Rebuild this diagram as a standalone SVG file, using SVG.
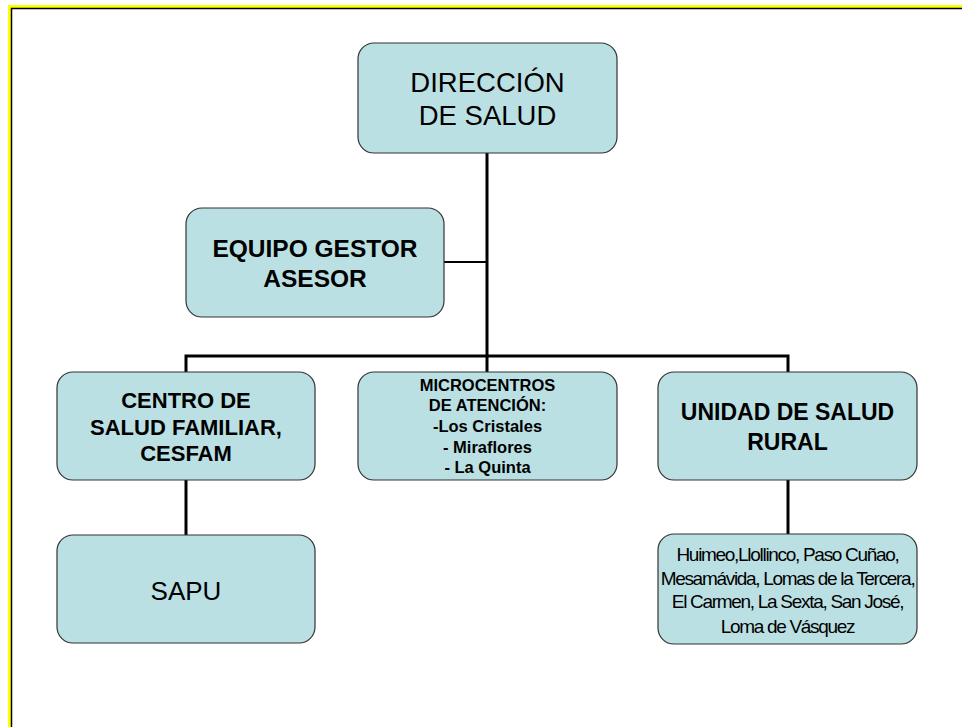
<svg xmlns="http://www.w3.org/2000/svg" width="962" height="727" viewBox="0 0 962 727">
<style>
.box{fill:#BBE0E3;stroke:#333;stroke-width:1.2}
.t{font-family:"Liberation Sans",Arial,sans-serif;fill:#000;text-anchor:middle}
.b{font-weight:bold}
.c{fill:none;stroke:#000;stroke-width:3}
.c2{fill:none;stroke:#000;stroke-width:2}
</style>
<rect x="0" y="0" width="962" height="727" fill="#fff"/>
<path d="M9.5 727 V6.5 H962" fill="none" stroke="#FFFF00" stroke-width="3"/>
<path d="M11.5 727 V8.5 H962" fill="none" stroke="#000" stroke-width="1.5"/>
<g id="connectors">
<path class="c" d="M487 153 V356"/>
<path class="c2" d="M444 262 H487"/>
<path class="c" d="M186 372 V356 H788 V372"/>
<path class="c" d="M487 356 V372"/>
<path class="c" d="M186 480 V535"/>
<path class="c" d="M788 480 V534"/>
</g>
<g id="direccion">
<rect class="box" x="358" y="43" width="259" height="110" rx="16"/>
<text class="t" x="487.5" y="92" font-size="27.5">DIRECCIÓN</text>
<text class="t" x="487.5" y="125" font-size="27.5">DE SALUD</text>
</g>
<g id="equipo">
<rect class="box" x="186" y="208" width="258" height="109" rx="16"/>
<text class="t b" x="315" y="257" font-size="24.5">EQUIPO GESTOR</text>
<text class="t b" x="315" y="287" font-size="24.5">ASESOR</text>
</g>
<g id="cesfam">
<rect class="box" x="57" y="372" width="258" height="108" rx="16"/>
<text class="t b" x="186" y="408" font-size="22">CENTRO DE</text>
<text class="t b" x="186" y="435" font-size="22">SALUD FAMILIAR,</text>
<text class="t b" x="186" y="461" font-size="22">CESFAM</text>
</g>
<g id="microcentros">
<rect class="box" x="358" y="372" width="259" height="108" rx="16"/>
<text class="t b" x="487.5" y="391" font-size="16.5">MICROCENTROS</text>
<text class="t b" x="487.5" y="411" font-size="16.5">DE ATENCIÓN:</text>
<text class="t b" x="487.5" y="432" font-size="16.5">-Los Cristales</text>
<text class="t b" x="487.5" y="453" font-size="16.5">- Miraflores</text>
<text class="t b" x="487.5" y="473" font-size="16.5">- La Quinta</text>
</g>
<g id="unidad">
<rect class="box" x="658" y="372" width="259" height="108" rx="16"/>
<text class="t b" x="787.5" y="420" font-size="23">UNIDAD DE SALUD</text>
<text class="t b" x="787.5" y="450" font-size="23">RURAL</text>
</g>
<g id="sapu">
<rect class="box" x="57" y="535" width="258" height="108" rx="16"/>
<text class="t" x="186" y="600" font-size="26">SAPU</text>
</g>
<g id="rural">
<rect class="box" x="658" y="534" width="259" height="110" rx="16"/>
<text class="t" x="787.5" y="561" font-size="19" letter-spacing="-1.3">Huimeo,Llollinco, Paso Cuñao,</text>
<text class="t" x="787.5" y="585" font-size="19" letter-spacing="-1.3">Mesamávida, Lomas de la Tercera,</text>
<text class="t" x="787.5" y="608" font-size="19" letter-spacing="-1.3">El Carmen, La Sexta, San José,</text>
<text class="t" x="787.5" y="633" font-size="19" letter-spacing="-1.3">Loma de Vásquez</text>
</g>
</svg>
